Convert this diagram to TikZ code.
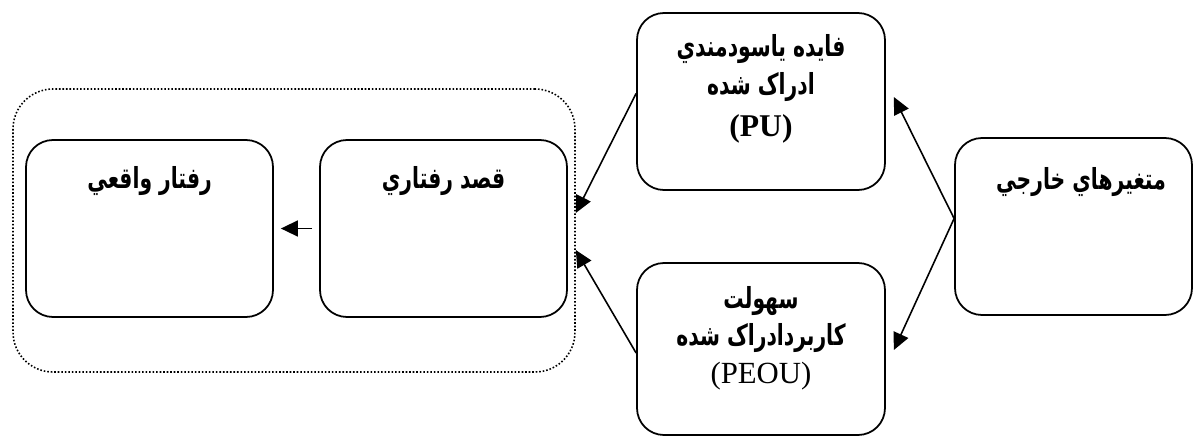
\documentclass[tikz,border=0pt]{standalone}
\usepackage{fontspec}
\TeXXeTstate=1
\newfontfamily\arabicfont[Script=Arabic, FakeStretch=0.7]{DejaVu Sans}
\newfontfamily\latinserif{Liberation Serif}
\usetikzlibrary{arrows.meta}
\newcommand{\rtl}[1]{\beginR #1\endR}
\tikzset{
  box/.style={draw, line width=1pt, rounded corners=5.4mm,
    minimum width=49.4mm, minimum height=35.4mm, inner sep=0pt},
  group/.style={draw, line width=0.9pt, dash pattern=on 0.9pt off 1.1pt,
    rounded corners=8mm, minimum width=112.4mm, minimum height=56.6mm},
  lbl/.style={font=\arabicfont\bfseries\fontsize{16.5}{21.5}\selectfont,
    align=center, inner sep=0pt},
  arr/.style={line width=0.9pt, -{Triangle[length=3.4mm,width=3.2mm]}},
}

\begin{document}
\begin{tikzpicture}[x=0.2mm,y=-0.2mm]
  \useasboundingbox (0,0) rectangle (1193,436);

  % dotted group and its two boxes
  \node[group] (grp) at (294,230.5) {};
  \node[box] (actual) at (149.5,228.5) {};
  \node[box] (intent) at (443.5,228.5) {};

  % right hand boxes
  \node[box, minimum width=49.6mm] (pu) at (761,101.5) {};
  \node[box, minimum width=49.6mm, minimum height=34.4mm] (peou) at (761,349) {};
  \node[box, minimum width=47.4mm] (ext) at (1073.5,226.5) {};

  % texts
  \node[lbl] (actualtxt) at ([yshift=-8.4mm]actual.north) {\rtl{رفتار واقعي}};
  \node[lbl] (intenttxt) at ([yshift=-8.4mm]intent.north) {\rtl{قصد رفتاري}};
  \node[lbl] (putxt) at ([yshift=-15.4mm]pu.north) {
    \rtl{فايده ياسودمندي}\\
    \rtl{ادراک شده}\\[0.8mm]
    {\latinserif\bfseries\fontsize{18}{21}\selectfont (PU)}
  };
  \node[lbl] (peoutxt) at ([yshift=-15.2mm]peou.north) {
    \rtl{سهولت}\\
    \rtl{کاربردادراک شده}\\
    {\latinserif\mdseries\fontsize{17.5}{21}\selectfont (PEOU)}
  };
  \node[lbl] (exttxt) at ([xshift=1.5mm,yshift=-9mm]ext.north) {\rtl{متغيرهاي خارجي}};

  % connectors
  \draw[arr] ([xshift=-1.4mm]intent.west) -- ([xshift=1.4mm]actual.east);
  \draw[arr] ([yshift=1.6mm]pu.west) -- ([yshift=3.5mm]grp.east);
  \draw[arr] ([yshift=-0.8mm]peou.west) -- ([yshift=-3.9mm]grp.east);
  \draw[arr] ([yshift=1.6mm]ext.west) -- ([xshift=1.6mm,yshift=0.9mm]pu.east);
  \draw[arr] ([yshift=1.6mm]ext.west) -- ([xshift=1.6mm,yshift=-0.2mm]peou.east);
\end{tikzpicture}
\end{document}
